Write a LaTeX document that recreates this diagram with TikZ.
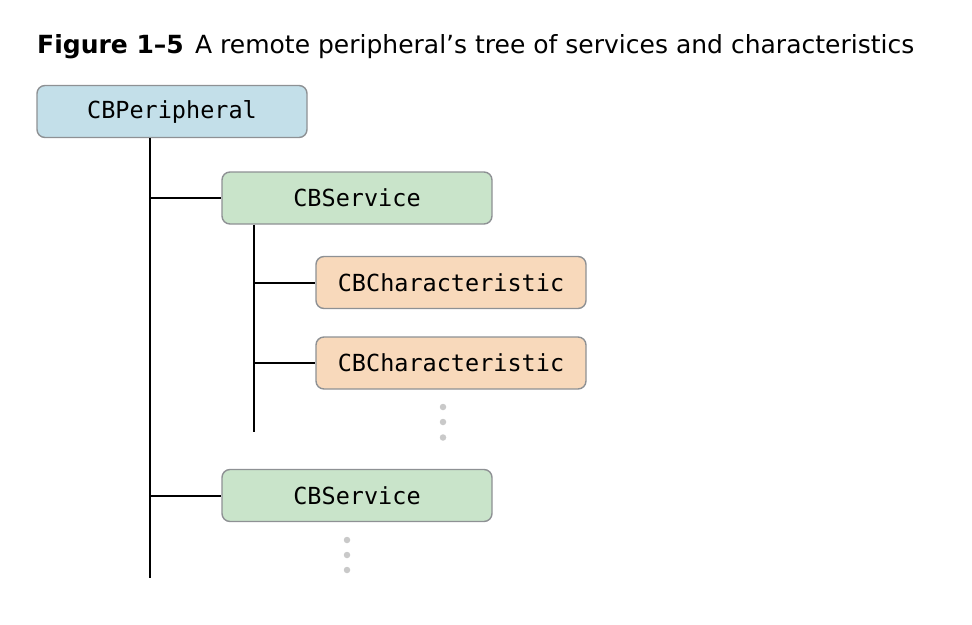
\documentclass[tikz,border=0pt]{standalone}
\usepackage{fontspec}
\setmainfont{DejaVu Sans}
\newfontfamily\boxmono{DejaVu Sans Mono}
\definecolor{perfill}{HTML}{C3DFE9}
\definecolor{srvfill}{HTML}{C9E4CA}
\definecolor{chrfill}{HTML}{F8D9BB}
\definecolor{boxline}{HTML}{8E9194}
\definecolor{dotgray}{HTML}{C9C9C9}
\tikzset{
  treebox/.style={draw=boxline, line width=1.4pt, rounded corners=8pt,
    minimum width=270pt, minimum height=52pt, inner sep=0pt,
    font=\boxmono\fontsize{23.5}{28}\selectfont, text=black},
  perbox/.style={treebox, fill=perfill},
  srvbox/.style={treebox, fill=srvfill},
  chrbox/.style={treebox, fill=chrfill},
  treeline/.style={line width=2pt, black},
  moredot/.style={circle, fill=dotgray, inner sep=0pt, minimum size=6.5pt},
}
\begin{document}
\begin{tikzpicture}[x=1pt,y=-1pt]
\useasboundingbox (0,0) rectangle (972,624);
\node[anchor=base west, inner sep=0pt] (title) at (37,53)
  {\resizebox{877pt}{!}{\textbf{Figure 1–5}\hspace{0.45em}A remote peripheral’s tree of services and characteristics}};
\node[perbox] (per) at (172,111.5) {CBPeripheral};
\node[srvbox] (s1) at (357,198) {CBService};
\node[chrbox] (c1) at (451,282.5) {CBCharacteristic};
\node[chrbox] (c2) at (451,363) {CBCharacteristic};
\node[srvbox] (s2) at (357,495.5) {CBService};
\coordinate (v1end) at (150,578);
\coordinate (v2x) at (254,0);
\coordinate (v2end) at (254,432);
\draw[treeline] (per.south -| v1end) -- (v1end);
\draw[treeline] (s1.west -| v1end) -- (s1.west);
\draw[treeline] (s2.west -| v1end) -- (s2.west);
\draw[treeline] (s1.south -| v2x) -- (v2end);
\draw[treeline] (c1.west -| v2x) -- (c1.west);
\draw[treeline] (c2.west -| v2x) -- (c2.west);
\node[moredot] (d1) at (443,407) {};
\node[moredot] (d2) at (443,422) {};
\node[moredot] (d3) at (443,437.5) {};
\node[moredot] (e1) at (347,540) {};
\node[moredot] (e2) at (347,555) {};
\node[moredot] (e3) at (347,570) {};
\end{tikzpicture}
\end{document}
